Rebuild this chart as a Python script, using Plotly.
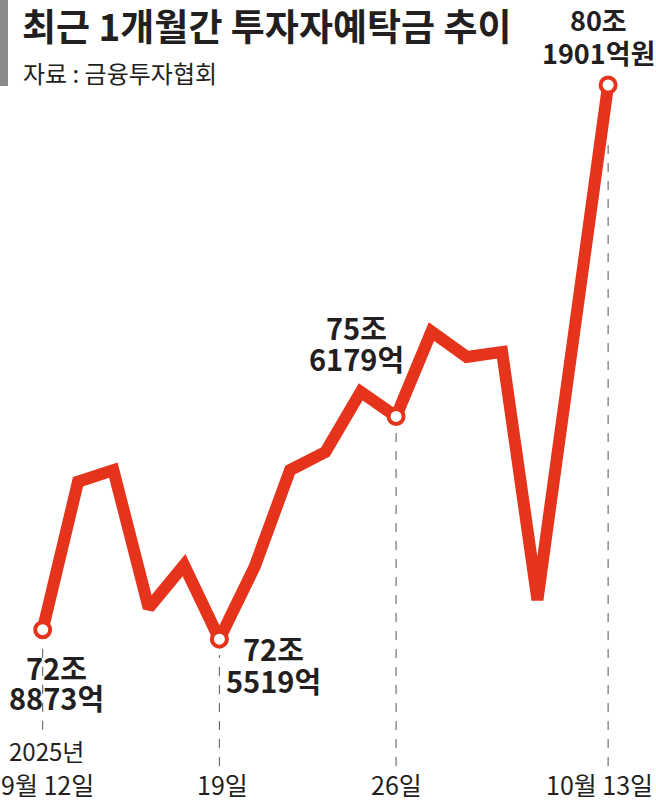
import plotly.graph_objects as go

# 거래일 인덱스 (9/12 = 0, 10/13 = 16; 10/3~10/10 연휴 구간 생략)
x_idx = [0, 1, 2, 3, 4, 5, 6, 7, 8, 9, 10, 11, 12, 13, 14, 16]
deposits = [72.68, 74.72, 74.88, 72.98, 73.57, 72.55, 73.55, 74.88,
            75.13, 75.96, 75.62, 76.79, 76.44, 76.51, 73.09, 80.19]  # 조원

marked_idx = [0, 5, 10, 16]
marked_val = [72.68, 72.55, 75.62, 80.19]

tick_idx = [0, 5, 10, 16]
tick_text = ["2025년<br>9월 12일", "19일", "26일", "10월 13일"]

title = "최근 1개월간 투자자예탁금 추이"
source = "자료 : 금융투자협회"

RED = "#E5341B"
INK = "#231F20"
FONT = "Noto Sans CJK KR"
W, H = 656, 809

XR = [-1.208, 17.355]
YR = [70.208, 81.362]

def py(px):
    return 1 - px / H

fig = go.Figure()
fig.add_trace(go.Scatter(
    x=x_idx, y=deposits, mode="lines",
    line=dict(color=RED, width=12), hoverinfo="skip", showlegend=False))
fig.add_trace(go.Scatter(
    x=marked_idx, y=marked_val, mode="markers",
    marker=dict(size=15, color="white", line=dict(color=RED, width=4)),
    hoverinfo="skip", showlegend=False))

# dashed guide lines (data coords)
guide_bottom = [71.30, 70.80, 70.80, 70.80]
guide_top = [72.53, 72.33, 75.45, 79.45]
for xi, y0, y1 in zip(marked_idx, guide_bottom, guide_top):
    fig.add_shape(type="line", xref="x", yref="y", x0=xi, x1=xi, y0=y0, y1=y1,
                  line=dict(color="#555555", width=1, dash="dash"), layer="below")

# gray bar
fig.add_shape(type="rect", xref="paper", yref="paper", x0=0, x1=8 / W,
              y0=py(86), y1=1, fillcolor="#8A8A8A", line=dict(width=0))

ann = []
ann.append(dict(text=f"<b>{title}</b>", x=20 / W, y=py(25), xref="paper", yref="paper",
                xanchor="left", yanchor="middle", showarrow=False,
                font=dict(family=FONT, size=37, color=INK)))
ann.append(dict(text=source, x=21 / W, y=py(72), xref="paper", yref="paper",
                xanchor="left", yanchor="middle", showarrow=False,
                font=dict(family=FONT, size=24, color=INK)))

vlabels = [
    (0.38, 667, 697, "72조", "8873억", 29),
    (6.52, 648, 680, "72조", "5519억", 29),
    (8.87, 327, 358, "75조", "6179억", 29),
    (15.72, 19, 53, "80조", "1901억원", 27),
]
for xi, y1, y2, t1, t2, fs in vlabels:
    ann.append(dict(text=f"<b>{t1}</b>", x=xi, y=py(y1),
                    xref="x", yref="paper", xanchor="center", yanchor="middle",
                    showarrow=False, font=dict(family=FONT, size=fs, color=INK)))
    ann.append(dict(text=f"<b>{t2}</b>", x=xi, y=py(y2),
                    xref="x", yref="paper", xanchor="center", yanchor="middle",
                    showarrow=False, font=dict(family=FONT, size=fs, color=INK)))

for xi, t in zip(tick_idx, tick_text):
    if "<br>" in t:
        a, b = t.split("<br>")
        ann.append(dict(text=a, x=xi + 0.12, y=py(750), xref="x", yref="paper",
                        xanchor="center", yanchor="middle", showarrow=False,
                        font=dict(family=FONT, size=24, color=INK)))
        ann.append(dict(text=b, x=xi + 0.14, y=py(784), xref="x", yref="paper",
                        xanchor="center", yanchor="middle", showarrow=False,
                        font=dict(family=FONT, size=25, color=INK)))
    elif xi == tick_idx[-1]:
        ann.append(dict(text=t, x=655 / W, y=py(784), xref="paper", yref="paper",
                        xanchor="right", yanchor="middle", showarrow=False,
                        font=dict(family=FONT, size=25, color=INK)))
    else:
        ann.append(dict(text=t, x=xi + (0.1 if xi == 5 else 0), y=py(784),
                        xref="x", yref="paper",
                        xanchor="center", yanchor="middle", showarrow=False,
                        font=dict(family=FONT, size=25, color=INK)))

fig.update_layout(
    width=W, height=H, margin=dict(l=0, r=0, t=0, b=0),
    paper_bgcolor="white", plot_bgcolor="white",
    xaxis=dict(range=XR, visible=False, fixedrange=True),
    yaxis=dict(range=YR, visible=False, fixedrange=True),
    annotations=ann, showlegend=False,
)
fig.write_html("out.html", config={"displayModeBar": False},
               post_script="document.body.style.margin='0';document.body.style.overflow='hidden';")
